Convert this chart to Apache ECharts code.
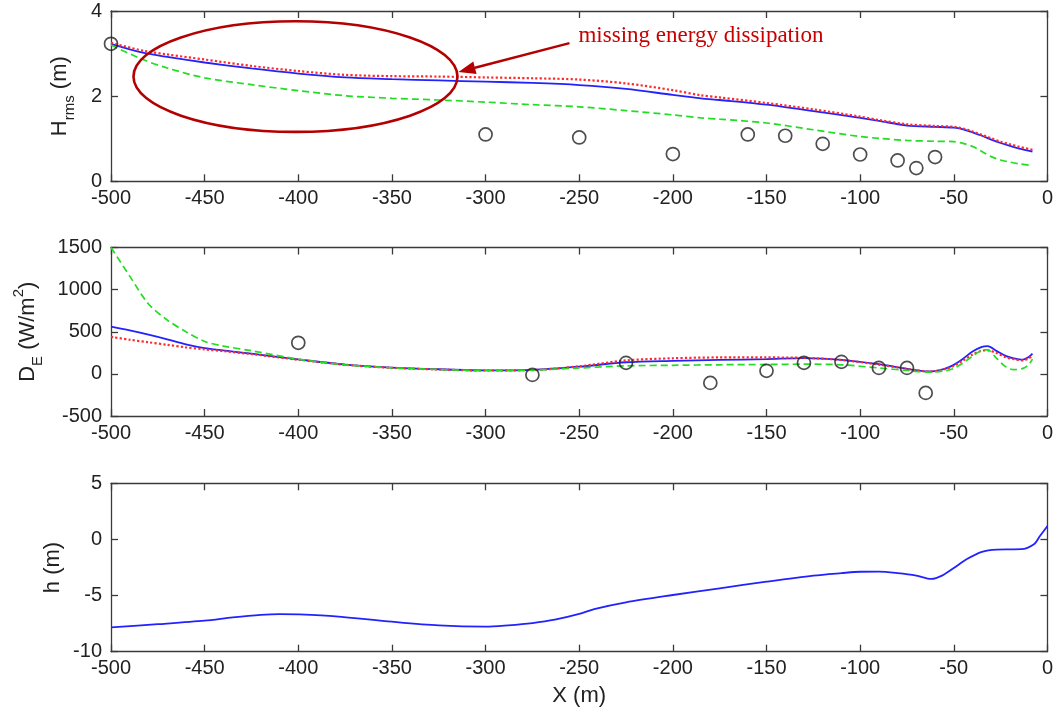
<!DOCTYPE html>
<html><head><meta charset="utf-8">
<script src="https://cdn.jsdelivr.net/npm/echarts@6/dist/echarts.min.js"></script>
<style>html,body{margin:0;padding:0;background:#fff}#c{width:1056px;height:713px}</style>
</head><body><div id="c"></div>
<script>
// ---------- Panel 1: H_rms (m) ----------
const hrmsX    = [-500,-483,-470,-450,-425,-400,-375,-350,-325,-300,-275,-250,-225,-200,-185,-175,-150,-125,-100,-90,-75,-60,-50,-45,-40,-35,-30,-25,-20,-15,-8];
const hrmsBlue = [3.23,3.02,2.92,2.79,2.65,2.53,2.44,2.40,2.37,2.34,2.31,2.26,2.17,2.03,1.95,1.91,1.80,1.65,1.49,1.42,1.31,1.28,1.26,1.22,1.15,1.07,0.98,0.90,0.83,0.77,0.70];
const hrmsRed  = [3.25,3.07,2.98,2.86,2.71,2.59,2.50,2.47,2.46,2.44,2.42,2.39,2.30,2.14,2.02,1.97,1.84,1.69,1.52,1.44,1.34,1.30,1.28,1.24,1.17,1.09,1.01,0.93,0.87,0.81,0.74];
const hrmsGreen= [3.20,2.86,2.66,2.43,2.27,2.13,2.01,1.95,1.91,1.86,1.80,1.75,1.66,1.56,1.49,1.46,1.37,1.21,1.05,1.01,0.96,0.94,0.93,0.89,0.82,0.70,0.58,0.50,0.45,0.41,0.37];
const hrmsObsX = [-500,-300,-250,-200,-160,-140,-120,-100,-80,-70,-60];
const hrmsObs  = [3.23,1.10,1.03,0.64,1.10,1.07,0.88,0.63,0.49,0.31,0.57];

// ---------- Panel 2: D_E (W/m^2) ----------
const deX     = [-500,-490,-480,-470,-460,-450,-440,-425,-400,-375,-350,-325,-300,-275,-250,-225,-200,-175,-150,-130,-110,-90,-75,-63,-55,-50,-45,-40,-35,-32,-27,-22,-18,-13,-10,-8];
const deBlue  = [560,515,465,410,350,305,278,240,172,110,75,55,42,48,85,138,155,165,175,187,167,115,60,28,60,107,180,265,320,330,270,210,185,170,200,240];
const deRed   = [440,405,375,345,315,290,270,235,168,108,72,52,40,45,90,160,185,195,195,190,165,110,60,28,55,95,160,230,275,280,245,195,175,160,185,215];
const deGreen = [1500,1160,830,640,500,385,330,275,175,108,72,52,40,45,70,95,102,108,112,115,108,70,40,20,35,65,130,210,280,285,180,80,50,65,110,175];
const deObsX  = [-400,-275,-225,-180,-150,-130,-110,-90,-75,-65];
const deObs   = [369,-12,131,-107,36,131,143,71,71,-226];

// ---------- Panel 3: h (m) ----------
const hX = [-500,-475,-450,-435,-420,-410,-400,-380,-350,-325,-300,-288,-275,-263,-250,-242,-225,-200,-175,-150,-125,-110,-100,-90,-80,-70,-62,-56,-50,-43,-35,-27,-20,-14,-7,-4,0];
const hY = [-7.83,-7.55,-7.24,-6.95,-6.72,-6.65,-6.68,-6.85,-7.33,-7.66,-7.77,-7.65,-7.45,-7.15,-6.64,-6.2,-5.6,-4.95,-4.35,-3.76,-3.22,-3.0,-2.88,-2.87,-3.0,-3.22,-3.52,-3.2,-2.55,-1.75,-1.1,-0.9,-0.88,-0.87,-0.4,0.3,1.2];

// ---------- Annotation (data coordinates of panel 1) ----------
const noteText = 'missing energy dissipation';
const noteEllipse = {cx: -401.5, cy: 2.46, rx: 86.5, ry: 1.3};

const zip = (xs, ys) => xs.map((x, i) => [x, ys[i]]);
const FONT = '"Liberation Sans", Arial, sans-serif';
const AX = '#3a3a3a';
const TXT = '#222';
const grids = [
  {left: 111, right: 8, top: 11, height: 170.3},
  {left: 111, right: 8, top: 247.5, height: 168.5},
  {left: 111, right: 8, top: 483.3, height: 168.4}
];
function xAxesFor(gi, name) {
  const common = {type: 'value', gridIndex: gi, min: -500, max: 0, interval: 50,
    splitLine: {show: false},
    axisLine: {onZero: false, lineStyle: {color: AX, width: 1.3}},
    axisTick: {inside: true, length: 7, lineStyle: {color: AX, width: 1.3}}};
  return [
    Object.assign({}, common, {position: 'bottom',
      axisLabel: {color: TXT, fontSize: 20, fontFamily: FONT, margin: 7},
      name: name || '', nameLocation: 'middle', nameGap: 33,
      nameTextStyle: {color: TXT, fontSize: 22, fontFamily: FONT}}),
    Object.assign({}, common, {position: 'top', axisLabel: {show: false}})
  ];
}
function yAxesFor(gi, min, max, interval, name, rich, gap, noMove) {
  const common = {type: 'value', gridIndex: gi, min: min, max: max, interval: interval,
    splitLine: {show: false},
    axisLine: {show: true, onZero: false, lineStyle: {color: AX, width: 1.3}},
    axisTick: {show: true, inside: true, length: 7, lineStyle: {color: AX, width: 1.3}}};
  const left = Object.assign({}, common, {position: 'left',
      axisLabel: {color: TXT, fontSize: 20, fontFamily: FONT, margin: 9, formatter: v => String(v)},
      name: name, nameLocation: 'middle', nameGap: gap,
      nameTextStyle: {color: TXT, fontSize: 22, fontFamily: FONT, rich: rich}});
  if (noMove) left.nameMoveOverlap = false;
  return [left, Object.assign({}, common, {position: 'right', axisLabel: {show: false}})];
}
const richBase = {
  a: {fontSize: 22, lineHeight: 34, fontFamily: FONT, color: TXT},
  s: {fontSize: 15, lineHeight: 15, fontFamily: FONT, color: TXT, verticalAlign: 'bottom'},
  p: {fontSize: 15, lineHeight: 15, fontFamily: FONT, color: TXT, verticalAlign: 'top'}
};

const lineBase = {type: 'line', showSymbol: false, smooth: 0.3, animation: false};
function panelLines(xi, yi, xs, blue, red, green) {
  return [
    Object.assign({}, lineBase, {xAxisIndex: xi, yAxisIndex: yi, data: zip(xs, blue), lineStyle: {color: '#2222ff', width: 1.8}, z: 3}),
    Object.assign({}, lineBase, {xAxisIndex: xi, yAxisIndex: yi, data: zip(xs, red), lineStyle: {color: '#ff2a2a', width: 2.2, type: 'dotted'}, z: 4}),
    Object.assign({}, lineBase, {xAxisIndex: xi, yAxisIndex: yi, data: zip(xs, green), lineStyle: {color: '#22dd22', width: 1.7, type: [7, 4]}, z: 5})
  ];
}
function obs(xi, yi, xs, ys) {
  return {type: 'scatter', xAxisIndex: xi, yAxisIndex: yi, data: zip(xs, ys), symbol: 'circle', symbolSize: 13,
    itemStyle: {color: 'rgba(0,0,0,0)', borderColor: '#222', borderWidth: 1.7}, z: 6, animation: false};
}

const option = {
  backgroundColor: '#fff',
  animation: false,
  grid: grids,
  xAxis: [].concat(xAxesFor(0), xAxesFor(1), xAxesFor(2, 'X (m)')),
  yAxis: [].concat(
    yAxesFor(0, 0, 4, 2, '{a|H}{s|rms}{a| (m)}', richBase, 34),
    yAxesFor(1, -500, 1500, 500, '{a|D}{s|E}{a| (W/m}{p|2}{a|)}', richBase, 66),
    yAxesFor(2, -10, 5, 5, '{a|h (m)}', richBase, 41, true)
  ),
  series: [].concat(
    panelLines(0, 0, hrmsX, hrmsBlue, hrmsRed, hrmsGreen),
    [obs(0, 0, hrmsObsX, hrmsObs)],
    panelLines(2, 2, deX, deBlue, deRed, deGreen),
    [obs(2, 2, deObsX, deObs)],
    [Object.assign({}, lineBase, {xAxisIndex: 4, yAxisIndex: 4, data: zip(hX, hY), lineStyle: {color: '#2222ff', width: 1.8}})]
  )
};

const chart = echarts.init(document.getElementById('c'), null, {renderer: 'canvas'});
chart.setOption(option);

// annotation placed from panel-1 data coordinates
const c0 = chart.convertToPixel({gridIndex: 0}, [noteEllipse.cx, noteEllipse.cy]);
const c1 = chart.convertToPixel({gridIndex: 0}, [noteEllipse.cx + noteEllipse.rx, noteEllipse.cy + noteEllipse.ry]);
const rxPx = c1[0] - c0[0], ryPx = c0[1] - c1[1];
const tip = [c0[0] + rxPx + 1, c0[1] - 4.5];
const tail = [tip[0] + 111, tip[1] - 29];
const dx = tip[0] - tail[0], dy = tip[1] - tail[1];
const L = Math.hypot(dx, dy), ux = dx / L, uy = dy / L;
const headLen = 17, headW = 6.5;
const base = [tip[0] - ux * headLen, tip[1] - uy * headLen];
const RED = '#b40000';
chart.setOption({
  graphic: [
    {type: 'ellipse', shape: {cx: c0[0], cy: c0[1], rx: rxPx, ry: ryPx}, style: {fill: 'none', stroke: RED, lineWidth: 2.6}, z: 100, silent: true},
    {type: 'line', shape: {x1: tail[0], y1: tail[1], x2: base[0], y2: base[1]}, style: {stroke: RED, lineWidth: 2.4}, z: 100, silent: true},
    {type: 'polygon', shape: {points: [tip, [base[0] - uy * headW, base[1] + ux * headW], [base[0] + uy * headW, base[1] - ux * headW]]}, style: {fill: RED}, z: 100, silent: true},
    {type: 'text', x: tail[0] + 9, y: tail[1] - 7, style: {text: noteText, fill: '#c80000', fontSize: 23, fontFamily: '"Liberation Serif", "Times New Roman", serif', verticalAlign: 'middle', align: 'left'}, z: 100, silent: true}
  ]
});
</script>
</body></html>
